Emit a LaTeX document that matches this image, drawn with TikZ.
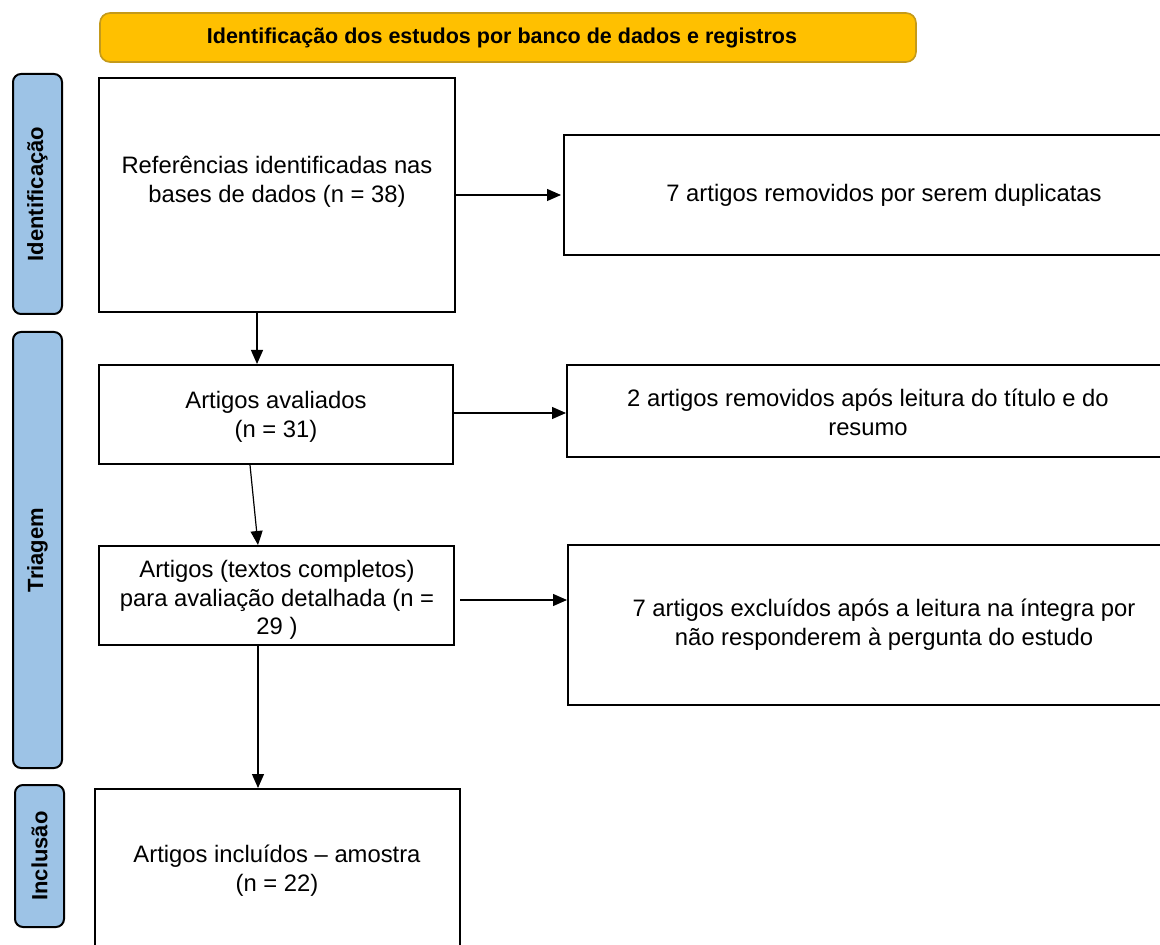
\documentclass[tikz,border=0pt]{standalone}
\usepackage{fontspec}
\setmainfont{Liberation Sans}
\usetikzlibrary{arrows.meta,calc}
\definecolor{bannerfill}{HTML}{FFC000}
\definecolor{bannerline}{HTML}{C49A1A}
\definecolor{sidefill}{HTML}{9DC3E6}
\begin{document}
\begin{tikzpicture}[x=0.5pt,y=-0.5pt,
  box/.style={draw=black,line width=1pt,fill=white,inner sep=0pt},
  txt/.style={align=center,font=\fontsize{11.9}{14.4}\selectfont,inner sep=0pt},
  side/.style={draw=black,line width=1pt,fill=sidefill,rounded corners=4pt,inner sep=0pt,minimum width=24.5pt},
  sidetxt/.style={font=\fontsize{11}{13}\selectfont\bfseries,rotate=90,inner sep=0pt},
  arr/.style={line width=0.6pt,-{Triangle[length=7pt,width=6pt]}}]
\clip (0,0) rectangle (1160,945);
\fill[white] (0,0) rectangle (1160,945);
% banner
\node[draw=bannerline,line width=0.8pt,fill=bannerfill,rounded corners=5pt,minimum width=408pt,minimum height=24.5pt,inner sep=0pt] (banner) at (508,37.5) {};
\node[font=\fontsize{10.75}{13}\selectfont\bfseries,inner sep=0pt] (bannertxt) at (502,38) {Identificação dos estudos por banco de dados e registros};
% side labels
\node[side,minimum height=120pt] (s1) at (37.5,194) {};
\node[sidetxt] (s1t) at (s1.center) {Identificação};
\node[side,minimum height=218pt] (s2) at (37.5,550) {};
\node[sidetxt] (s2t) at (s2.center) {Triagem};
\node[side,minimum height=71pt] (s3) at (39.5,856) {};
\node[sidetxt] (s3t) at (s3.center) {Inclusão};
% left boxes
\node[box,minimum width=178pt,minimum height=117pt] (b1) at (277,195) {};
\node[txt] (b1t) at (277,182) {Referências identificadas nas\\bases de dados (n = 38)};
\node[box,minimum width=177pt,minimum height=49.5pt] (b2) at (276,414.5) {};
\node[txt] (b2t) at (276,417) {Artigos avaliados\\(n = 31)};
\node[box,minimum width=177.5pt,minimum height=49.5pt] (b3) at (276.5,595.5) {};
\node[txt] (b3t) at (277,600) {Artigos (textos completos)\\para avaliação detalhada (n =\\29 )};
\node[box,minimum width=182.5pt,minimum height=82pt] (b4) at (277.5,871) {};
\node[txt] (b4t) at (277,871) {Artigos incluídos – amostra\\(n = 22)};
% right boxes
\node[box,minimum width=320pt,minimum height=60pt] (r1) at (884,195) {};
\node[txt] (r1t) at (884,195) {7 artigos removidos por serem duplicatas};
\node[box,minimum width=301pt,minimum height=46pt] (r2) at (868,411) {};
\node[txt] (r2t) at (868,412) {2 artigos removidos após leitura do título e do\\resumo};
\node[box,minimum width=316pt,minimum height=80pt] (r3) at (884,625) {};
\node[txt] (r3t) at (884,625) {7 artigos excluídos após a leitura na íntegra por\\não responderem à pergunta do estudo};
% connector end points
\coordinate (a1s) at ($(b1.south)+(-20,0)$);
\coordinate (a2s) at ($(b2.south)+(-26,0)$);
\coordinate (a2e) at ($(b3.north)+(-18.5,0)$);
\coordinate (a3s) at ($(b3.south)+(-18.5,0)$);
\coordinate (h2s) at ($(b2.east)+(0,-1.5)$);
\coordinate (h3s) at ($(b3.east)+(5,4.5)$);
% arrows
\draw[arr] (a1s) -- (a1s |- b2.north);
\draw[arr] (a2s) -- (a2e);
\draw[arr] (a3s) -- (a3s |- b4.north);
\draw[arr] (b1.east) -- ($(r1.west)+(-2,0)$);
\draw[arr] (h2s) -- (h2s -| r2.west);
\draw[arr] (h3s) -- (h3s -| r3.west);
\end{tikzpicture}
\end{document}
